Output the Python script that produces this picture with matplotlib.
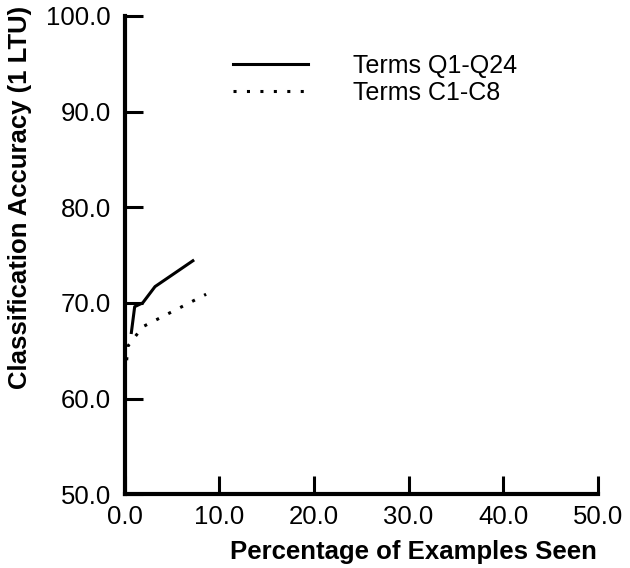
import matplotlib
matplotlib.use('Agg')
from matplotlib import pyplot as plt

plt.rcParams['font.family'] = ['Liberation Sans', 'DejaVu Sans']

# solid curve, Terms Q1-Q24
q_x = [0.7, 1.05, 1.9, 3.2, 7.2]
q_y = [66.9, 69.6, 70.0, 71.7, 74.4]

# dotted curve, Terms C1-C8
c_x = [0.2, 0.35, 1.9, 8.6]
c_y = [64.0, 65.5, 67.5, 70.9]

xticks = [0, 10, 20, 30, 40, 50]
yticks = [50, 60, 70, 80, 90, 100]

fig = plt.figure(figsize=(6.3, 5.68), dpi=100)
ax = fig.add_axes([0.198, 0.130, 0.751, 0.842])

ax.plot(q_x, q_y, color='black', linewidth=2.2, label='Terms Q1-Q24')
ax.plot(c_x, c_y, color='black', linewidth=2.2, linestyle=(0, (1, 3.4)), label='Terms C1-C8')

ax.set_xlim(0, 50)
ax.set_ylim(50, 100)
ax.set_xticks(xticks)
ax.set_yticks(yticks)
ax.set_xticklabels(['%.1f' % v for v in xticks])
ax.set_yticklabels(['%.1f' % v for v in yticks])

for s in ['top', 'right']:
    ax.spines[s].set_visible(False)
for s in ['left', 'bottom']:
    ax.spines[s].set_linewidth(3)
ax.tick_params(direction='in', length=13, width=2.2, labelsize=18.5)
ax.tick_params(axis='x', pad=8)
ax.tick_params(axis='y', pad=10)

ax.set_xlabel('Percentage of Examples Seen', fontsize=18.5, fontweight='bold',
              ha='right', va='center')
ax.xaxis.set_label_coords(0.998, -0.121)
ax.set_ylabel('Classification Accuracy (1 LTU)', fontsize=18.5, fontweight='bold',
              ha='center', va='center')
ax.yaxis.set_label_coords(-0.222, 0.621)

ax.legend(loc='upper left', bbox_to_anchor=(0.228, 0.92), frameon=False, fontsize=18,
          handlelength=3.0, handletextpad=1.8, labelspacing=0.12,
          borderpad=0, borderaxespad=0)

fig.savefig('out.png', dpi=100)
